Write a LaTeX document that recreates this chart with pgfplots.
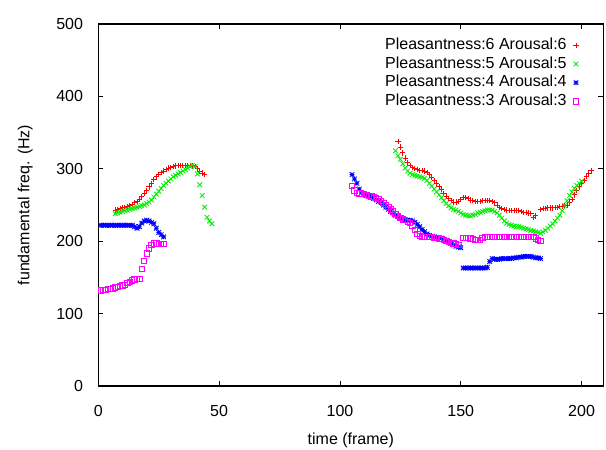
\documentclass[border=0pt]{standalone}
\usepackage{fontspec}
\setmainfont{Liberation Sans}
\usepackage{pgfplots}
\pgfplotsset{compat=1.18}
\usepackage{pgfplotstable}

\definecolor{gpred}{RGB}{255,0,0}
\definecolor{gpgreen}{RGB}{0,238,0}
\definecolor{gpblue}{RGB}{0,0,255}
\definecolor{gpmag}{RGB}{255,0,255}

% gnuplot style point types: + , x , * (plus and cross), open square
\pgfdeclareplotmark{gpplus}{%
  \pgfpathmoveto{\pgfqpoint{-\pgfplotmarksize}{0pt}}%
  \pgfpathlineto{\pgfqpoint{\pgfplotmarksize}{0pt}}%
  \pgfpathmoveto{\pgfqpoint{0pt}{-\pgfplotmarksize}}%
  \pgfpathlineto{\pgfqpoint{0pt}{\pgfplotmarksize}}%
  \pgfusepathqstroke}
\pgfdeclareplotmark{gpcross}{%
  \pgfpathmoveto{\pgfqpoint{-\pgfplotmarksize}{-\pgfplotmarksize}}%
  \pgfpathlineto{\pgfqpoint{\pgfplotmarksize}{\pgfplotmarksize}}%
  \pgfpathmoveto{\pgfqpoint{-\pgfplotmarksize}{\pgfplotmarksize}}%
  \pgfpathlineto{\pgfqpoint{\pgfplotmarksize}{-\pgfplotmarksize}}%
  \pgfusepathqstroke}
\pgfdeclareplotmark{gpstar}{%
  \pgfpathmoveto{\pgfqpoint{-\pgfplotmarksize}{0pt}}%
  \pgfpathlineto{\pgfqpoint{\pgfplotmarksize}{0pt}}%
  \pgfpathmoveto{\pgfqpoint{0pt}{-\pgfplotmarksize}}%
  \pgfpathlineto{\pgfqpoint{0pt}{\pgfplotmarksize}}%
  \pgfpathmoveto{\pgfqpoint{-\pgfplotmarksize}{-\pgfplotmarksize}}%
  \pgfpathlineto{\pgfqpoint{\pgfplotmarksize}{\pgfplotmarksize}}%
  \pgfpathmoveto{\pgfqpoint{-\pgfplotmarksize}{\pgfplotmarksize}}%
  \pgfpathlineto{\pgfqpoint{\pgfplotmarksize}{-\pgfplotmarksize}}%
  \pgfusepathqstroke}

\pgfplotstableread{
x y
7 243
8 244
9 245
10 246
11 247
12 248
13 249
14 251
15 253
16 255
17 258
18 262
19 266
20 270
21 275
22 280
23 285
24 289
25 292
26 295
27 297
28 299
29 301
30 302
31 303
32 304
33 305
34 305
35 305
36 305
37 305
38 305
39 304
40 303
41 300
42 297
43 294
44 292
124 338
125 330
126 322
127 315
128 309
129 305
130 302
131 300
132 299
133 298
134 298
135 297
136 295
137 292
138 288
139 284
140 280
141 276
142 271
143 266
144 262
145 259
146 256
147 254
148 254
149 255
150 258
151 260
152 260
153 259
154 257
155 256
156 255
157 255
158 255
159 256
160 256
161 256
162 256
163 255
164 253
165 250
166 247
167 245
168 244
169 243
170 242
171 242
172 242
173 242
174 242
175 241
176 240
177 240
178 239
179 238
180 233
181 235
183 244
184 245
185 245
186 246
187 246
188 246
189 247
190 247
191 248
192 248
193 249
194 250
195 254
196 258
197 264
198 270
199 275
200 280
201 284
202 289
203 294
204 298
}\pssix

\pgfplotstableread{
x y
7 238
8 239
9 240
10 241
11 242
12 243
13 244
14 245
15 246
16 247
17 248
18 249
19 250
20 252
21 254
22 257
23 261
24 265
25 269
26 273
27 277
28 280
29 283
30 286
31 289
32 291
33 293
34 295
35 297
36 299
37 301
38 303
39 305
40 303
41 293
42 278
43 263
44 247
45 233
46 228
47 224
123 325
124 318
125 313
126 307
127 301
128 297
129 294
130 292
131 291
132 290
133 289
134 288
135 287
136 284
137 280
138 276
139 272
140 268
141 264
142 260
143 256
144 252
145 249
146 246
147 244
148 243
149 241
150 239
151 237
152 236
153 235
154 235
155 236
156 237
157 239
158 240
159 241
160 242
161 243
162 243
163 243
164 241
165 239
166 236
167 232
168 228
169 225
170 223
171 222
172 221
173 220
174 220
175 219
176 218
177 217
178 216
179 215
180 214
181 213
182 212
183 211
184 213
185 215
186 218
187 221
188 224
189 228
190 232
191 236
192 242
193 249
194 256
195 263
196 268
197 273
198 277
199 280
200 283
}\psfive

\pgfplotstableread{
x y
1 222
2 222
3 222
4 222
5 222
6 222
7 222
8 222
9 222
10 222
11 222
12 222
13 222
14 222
15 220
16 218
17 220
18 225
19 228
20 229
21 228
22 226
23 224
24 218
25 212
26 209
27 206
105 292
106 286
107 280
108 272
109 267
110 265
111 263
112 262
113 261
114 259
115 257
116 255
117 253
118 250
119 247
120 244
121 241
122 239
123 236
124 234
125 232
126 230
127 229
128 229
129 229
130 228
131 226
132 223
133 220
134 216
135 213
136 210
137 208
138 207
139 206
140 205
141 205
142 204
143 202
144 200
145 199
146 197
147 195
148 193
149 192
150 191
151 163
152 163
153 163
154 163
155 163
156 163
157 163
158 163
159 163
160 163
161 164
162 172
163 176
164 175
165 175
166 175
167 176
168 176
169 176
170 176
171 176
172 177
173 177
174 178
175 178
176 179
177 179
178 179
179 179
180 178
181 177
182 177
183 176
}\psfour

\pgfplotstableread{
x y
1 132
2 133
3 133
4 134
5 134
6 135
7 136
8 137
9 138
10 139
11 140
12 142
13 144
14 146
15 147
16 148
17 148
18 162
19 173
20 183
21 190
22 195
23 197
24 197
25 196
26 196
27 196
105 276
106 270
107 267
108 266
109 265
110 265
111 264
112 263
113 262
114 261
115 260
116 258
117 256
118 253
119 250
120 247
121 244
122 241
123 238
124 235
125 232
126 230
127 229
128 227
129 225
130 222
131 216
132 210
133 207
134 206
135 206
136 206
137 206
138 206
139 205
140 205
141 204
142 203
143 202
144 200
145 199
146 198
147 197
148 196
149 195
151 205
152 205
153 205
154 204
155 203
156 202
157 202
158 202
159 205
160 206
161 206
162 206
163 206
164 206
165 206
166 206
167 206
168 206
169 206
170 206
171 206
172 206
173 206
174 206
175 206
176 206
177 206
178 206
179 206
180 206
181 204
182 202
183 200
}\psthree

\begin{document}
\fontsize{9.6pt}{11.2pt}\selectfont
\begin{tikzpicture}
\begin{axis}[
  at={(0,0)}, anchor=south west,
  scale only axis,
  width=303pt, height=217.2pt,
  xmin=0, xmax=209,
  ymin=0, ymax=500,
  xtick={0,50,100,150,200},
  ytick={0,100,200,300,400,500},
  tick align=inside,
  major tick length=3pt,
  tick style={black, line width=0.5pt},
  axis line style={black, line width=0.7pt},
  /pgf/number format/assume math mode=true,
  tick label style={font=\fontsize{9.6pt}{11.2pt}\selectfont},
  yticklabel style={inner sep=0pt, anchor=east, xshift=-9pt},
  xticklabel style={inner sep=0pt, anchor=north, yshift=-11.4pt},
  xlabel={time (frame)},
  ylabel={fundamental freq. (Hz)},
  xlabel style={at={(axis description cs:0.5,0)}, anchor=center, inner sep=0pt, yshift=-32.4pt},
  ylabel style={at={(axis description cs:0,0.5)}, anchor=center, inner sep=0pt, yshift=43.8pt},
  label style={font=\fontsize{9.6pt}{11.2pt}\selectfont},
  legend plot pos=right,
  legend cell align=right,
  legend image code/.code={%
    \draw[mark repeat=2,mark phase=2] plot coordinates {(-1pt,0pt)(0pt,0pt)(1pt,0pt)};},
  legend style={draw=none, fill=none, at={(rel axis cs:1,1)}, anchor=north east,
    xshift=-11.6pt, yshift=-5pt, row sep=0pt,
    nodes={inner sep=0pt, text height=8pt, text depth=3.2pt},
    font=\fontsize{9.6pt}{11.2pt}\selectfont},
  every axis plot/.append style={only marks, mark size=1.6pt, line width=0.5pt},
]
\addplot[color=gpred, mark=gpplus] table {\pssix};
\addlegendentry{Pleasantness:6 Arousal:6\rule{4pt}{0pt}}
\addplot[color=gpgreen, mark=gpcross, mark size=1.4pt] table {\psfive};
\addlegendentry{Pleasantness:5 Arousal:5\rule{4pt}{0pt}}
\addplot[color=gpblue, mark=gpstar, mark size=1.4pt] table {\psfour};
\addlegendentry{Pleasantness:4 Arousal:4\rule{4pt}{0pt}}
\addplot[color=gpmag, mark=square] table {\psthree};
\addlegendentry{Pleasantness:3 Arousal:3\rule{4pt}{0pt}}
\end{axis}
\pgfresetboundingbox
\path (-59pt,-38.4pt) rectangle (304.6pt,231.6pt);
\end{tikzpicture}
\end{document}
